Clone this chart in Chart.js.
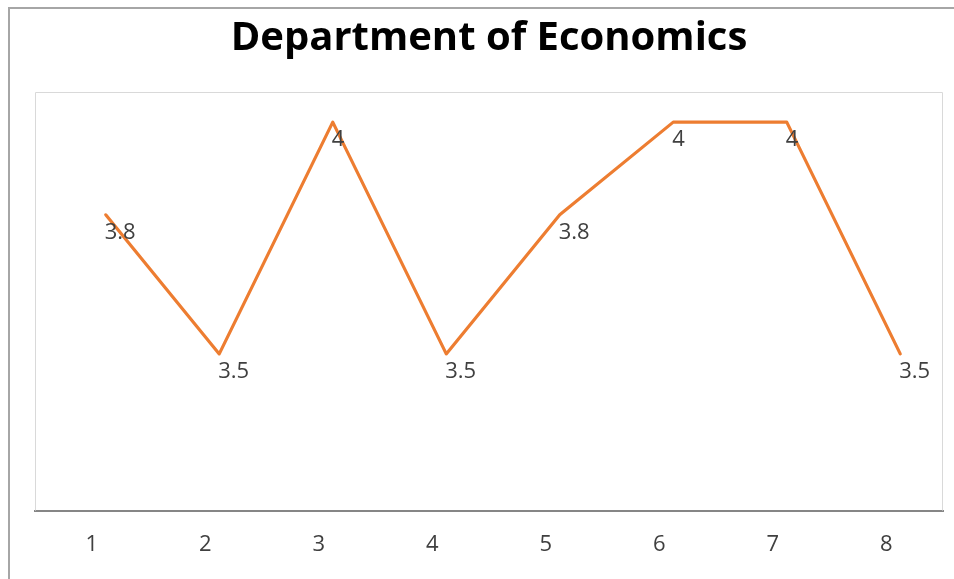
<!DOCTYPE html>
<html>
<head>
<meta charset="utf-8">
<script src="https://cdn.jsdelivr.net/npm/chart.js@4.4.0/dist/chart.umd.min.js"></script>
<style>
  html, body { margin: 0; padding: 0; background: #fff; }
  #wrap { width: 954px; height: 579px; }
</style>
</head>
<body>
<div id="wrap"><canvas id="myChart"></canvas></div>
<script>
'use strict';

// chart data
var categories = ['1', '2', '3', '4', '5', '6', '7', '8'];
var scores = [3.8, 3.5, 4, 3.5, 3.8, 4, 4, 3.5];

// excel draws the line a bit right of the category labels
var lineShift = 14;

// outer frame + plot area box
var framePlugin = {
    id: 'frame',
    beforeDatasetsDraw: function (chart) {
        var c = chart.ctx, a = chart.chartArea;
        c.save();
        c.strokeStyle = '#d9d9d9';
        c.lineWidth = 1;
        c.beginPath();
        c.moveTo(a.left + 0.5, a.bottom);
        c.lineTo(a.left + 0.5, a.top + 0.5);
        c.lineTo(a.right - 0.5, a.top + 0.5);
        c.lineTo(a.right - 0.5, a.bottom);
        c.stroke();
        c.strokeStyle = '#a6a6a6';
        c.lineWidth = 2;
        c.beginPath();
        c.moveTo(9, chart.height);
        c.lineTo(9, 8);
        c.lineTo(chart.width, 8);
        c.stroke();
        c.restore();
    }
};

// shift the line, then put value labels under each point
var lineLabelPlugin = {
    id: 'lineLabels',
    beforeDatasetsDraw: function (chart) {
        chart.ctx.save();
        chart.ctx.translate(lineShift, 0);
    },
    afterDatasetsDraw: function (chart) {
        var c = chart.ctx;
        c.restore();
        var meta = chart.getDatasetMeta(0);
        c.save();
        c.font = '22px "Open Sans", sans-serif';
        c.fillStyle = '#404040';
        c.textAlign = 'left';
        c.textBaseline = 'middle';
        meta.data.forEach(function (pt, i) {
            c.fillText(String(scores[i]), pt.x + lineShift - 1, pt.y + 18);
        });
        c.restore();
    }
};

const ctx = document.getElementById('myChart');

new Chart(ctx, {
    type: 'line',
    data: {
        labels: categories,
        datasets: [{
            data: scores,
            borderColor: '#ed7d31',
            borderWidth: 3.2,
            tension: 0,
            pointRadius: 0,
            borderJoinStyle: 'round',
            borderCapStyle: 'round'
        }]
    },
    options: {
        responsive: true,
        maintainAspectRatio: false,
        animation: false,
        layout: {
            padding: { top: 8, left: 35, right: 11, bottom: 0 }
        },
        plugins: {
            legend: { display: false },
            tooltip: { enabled: false },
            title: {
                display: true,
                text: 'Department of Economics',
                color: '#000',
                font: { family: '"Open Sans", sans-serif', size: 40, weight: 'bold', lineHeight: 1.2 },
                padding: { top: 7, bottom: 29 }
            }
        },
        scales: {
            x: {
                offset: true,
                grid: { display: false, drawTicks: false },
                border: { color: '#868686', width: 2 },
                ticks: {
                    color: '#404040',
                    font: { family: '"Open Sans", sans-serif', size: 22 },
                    padding: 21
                }
            },
            y: {
                display: false,
                min: 3.162,
                max: 4.065
            }
        }
    },
    plugins: [framePlugin, lineLabelPlugin]
});
</script>
</body>
</html>
